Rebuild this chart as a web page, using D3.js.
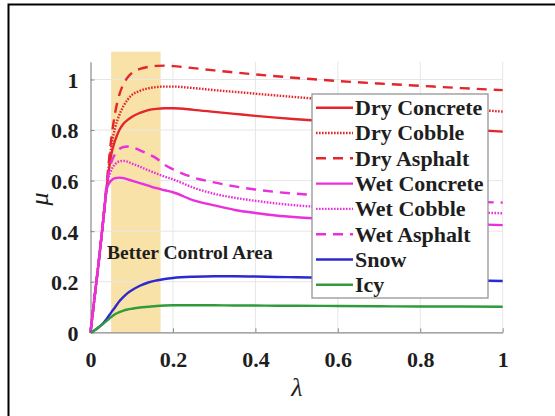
<!DOCTYPE html>
<html>
<head>
<meta charset="utf-8">
<title>mu-lambda curves</title>
<script src="https://cdn.jsdelivr.net/npm/d3@7"></script>
<style>
  body { margin: 0; background: #fff; }
  svg text { fill: #1e1e1e; }
  .grid line { stroke: #e6e6e6; stroke-width: 1; }
  .axis-line { stroke: #8a8a8a; stroke-width: 1.2; fill: none; }
  .curve { fill: none; stroke-width: 2.4; }
</style>
</head>
<body>
<div id="chart"></div>
<script>
var serif = "Liberation Serif";

// slip ratio samples (x)
var lambda = [0, 0.01, 0.02, 0.03, 0.04, 0.05, 0.06, 0.07, 0.08, 0.09, 0.1,
              0.12, 0.14, 0.16, 0.18, 0.2, 0.25, 0.3, 0.35, 0.4, 0.45, 0.5,
              0.6, 0.7, 0.8, 0.9, 1.0];

// friction coefficient, one array per road surface
var dryConcrete = [0, 0.14, 0.28, 0.43, 0.58, 0.70, 0.76, 0.80, 0.825, 0.84, 0.852,
                   0.868, 0.879, 0.884, 0.886, 0.886, 0.880, 0.872, 0.864, 0.856, 0.849, 0.843,
                   0.832, 0.822, 0.812, 0.803, 0.794];
var dryCobble   = [0, 0.14, 0.28, 0.43, 0.59, 0.73, 0.81, 0.86, 0.895, 0.92, 0.938,
                   0.955, 0.965, 0.970, 0.972, 0.972, 0.966, 0.958, 0.951, 0.944, 0.937, 0.930,
                   0.918, 0.907, 0.895, 0.884, 0.873];
var dryAsphalt  = [0, 0.14, 0.28, 0.43, 0.60, 0.76, 0.87, 0.94, 0.982, 1.008, 1.025,
                   1.042, 1.050, 1.054, 1.055, 1.053, 1.045, 1.036, 1.028, 1.020, 1.013, 1.006,
                   0.994, 0.984, 0.975, 0.966, 0.958];
var wetConcrete = [0, 0.14, 0.28, 0.43, 0.57, 0.60, 0.61, 0.612, 0.61, 0.605, 0.60,
                   0.59, 0.58, 0.57, 0.562, 0.554, 0.522, 0.502, 0.484, 0.472, 0.462, 0.455,
                   0.446, 0.440, 0.434, 0.429, 0.424];
var wetCobble   = [0, 0.14, 0.28, 0.43, 0.58, 0.64, 0.665, 0.676, 0.678, 0.675, 0.668,
                   0.655, 0.641, 0.628, 0.616, 0.605, 0.572, 0.548, 0.532, 0.520, 0.510, 0.502,
                   0.492, 0.485, 0.479, 0.475, 0.471];
var wetAsphalt  = [0, 0.14, 0.28, 0.43, 0.59, 0.67, 0.705, 0.725, 0.733, 0.735, 0.732,
                   0.720, 0.705, 0.688, 0.662, 0.645, 0.612, 0.593, 0.577, 0.565, 0.555, 0.548,
                   0.538, 0.530, 0.523, 0.518, 0.513];
var snow        = [0, 0.008, 0.02, 0.035, 0.055, 0.078, 0.10, 0.123, 0.14, 0.155, 0.166,
                   0.184, 0.197, 0.205, 0.211, 0.215, 0.220, 0.222, 0.222, 0.221, 0.219, 0.218,
                   0.215, 0.212, 0.209, 0.206, 0.203];
var icy         = [0, 0.008, 0.02, 0.033, 0.046, 0.06, 0.072, 0.08, 0.086, 0.09, 0.093,
                   0.098, 0.101, 0.104, 0.106, 0.107, 0.107, 0.107, 0.106, 0.106, 0.105, 0.105,
                   0.104, 0.103, 0.102, 0.102, 0.101];

var seriesNames = ["Dry Concrete", "Dry Cobble", "Dry Asphalt",
                   "Wet Concrete", "Wet Cobble", "Wet Asphalt", "Snow", "Icy"];
var seriesValues = [dryConcrete, dryCobble, dryAsphalt,
                    wetConcrete, wetCobble, wetAsphalt, snow, icy];

var xTicks = [0, 0.2, 0.4, 0.6, 0.8, 1];
var yTicks = [0, 0.2, 0.4, 0.6, 0.8, 1];
var controlBand = [0.05, 0.17];

var width = 555, height = 416;
var red = "#e2262c", magenta = "#e930dc", blue = "#2a2ad0", green = "#2f9b3a";
var styles = [
  {color: red, dash: null},
  {color: red, dash: "1.6,1.4"},
  {color: red, dash: "10,7"},
  {color: magenta, dash: null},
  {color: magenta, dash: "1.6,1.4"},
  {color: magenta, dash: "10,7"},
  {color: blue, dash: null},
  {color: green, dash: null}
];

var svg = d3.select("#chart").append("svg")
            .attr("width", width)
            .attr("height", height)
            .attr("font-family", serif);

// outer frame (only left and top edges fall inside the picture)
svg.append("rect")
   .attr("x", 8.5).attr("y", 4.5)
   .attr("width", 560).attr("height", 430)
   .attr("fill", "none")
   .attr("stroke", "#000")
   .attr("stroke-width", 2);

var x = d3.scaleLinear().domain([0, 1]).range([90.5, 502.7]);
var y = d3.scaleLinear().domain([0, 1.07]).range([332.3, 332.3 - 1.07 * 252.8]);

// better control band
svg.append("rect")
   .attr("x", x(controlBand[0]))
   .attr("y", y(1.11))
   .attr("width", x(controlBand[1]) - x(controlBand[0]))
   .attr("height", y(0) - y(1.11))
   .attr("fill", "#f9e2a8");

// grid
var grid = svg.append("g").attr("class", "grid");
grid.selectAll(".gx").data(xTicks.slice(1)).enter().append("line")
    .attr("x1", function(d) { return x(d); }).attr("x2", function(d) { return x(d); })
    .attr("y1", y(0)).attr("y2", y(1.07));
grid.selectAll(".gy").data(yTicks.slice(1)).enter().append("line")
    .attr("y1", function(d) { return y(d); }).attr("y2", function(d) { return y(d); })
    .attr("x1", x(0)).attr("x2", x(1));

// axes, MATLAB style: inward ticks, bold serif labels
var xAxis = svg.append("g").attr("transform", "translate(0," + y(0) + ")")
               .call(d3.axisBottom(x).tickValues(xTicks).tickSizeInner(-4).tickSizeOuter(0)
                       .tickPadding(14).tickFormat(d3.format("~g")));
var yAxis = svg.append("g").attr("transform", "translate(" + x(0) + ",0)")
               .call(d3.axisLeft(y).tickValues(yTicks).tickSizeInner(-4).tickSizeOuter(0)
                       .tickPadding(12).tickFormat(d3.format("~g")));
[xAxis, yAxis].forEach(function(a) {
  a.attr("font-family", serif).attr("font-size", 22).attr("font-weight", "bold");
  a.select(".domain").attr("class", "axis-line");
  a.selectAll(".tick line").attr("stroke", "#8a8a8a");
  a.selectAll(".tick text").attr("fill", "#1e1e1e");
});
xAxis.selectAll(".tick text").attr("dy", "0.95em");
yAxis.selectAll(".tick text").attr("dy", "0.36em");

// curves
var line = d3.line()
             .x(function(d) { return x(d[0]); })
             .y(function(d) { return y(d[1]); })
             .curve(d3.curveMonotoneX);

var curves = svg.append("g");
seriesValues.forEach(function(vals, i) {
  curves.append("path")
        .datum(lambda.map(function(l, j) { return [l, vals[j]]; }))
        .attr("class", "curve")
        .attr("stroke", styles[i].color)
        .attr("stroke-dasharray", styles[i].dash)
        .attr("d", line);
});

svg.append("text")
   .attr("x", 107).attr("y", 259)
   .attr("font-size", 19.5).attr("font-weight", "bold")
   .text("Better Control Area");

// axis titles
svg.append("text")
   .attr("x", 297).attr("y", 396)
   .attr("text-anchor", "middle")
   .attr("font-size", 26).attr("font-style", "italic")
   .text("λ");
svg.append("text")
   .attr("transform", "translate(48,199) rotate(-90)")
   .attr("text-anchor", "middle")
   .attr("font-size", 26).attr("font-style", "italic")
   .text("μ");

// legend
var legend = svg.append("g");
legend.append("rect")
      .attr("x", 312).attr("y", 94)
      .attr("width", 176).attr("height", 204)
      .attr("fill", "#fff")
      .attr("stroke", "#8c8c8c")
      .attr("stroke-width", 1.2);
seriesNames.forEach(function(name, i) {
  var cy = 107.7 + i * 25.3;
  legend.append("line")
        .attr("x1", 316).attr("x2", 353)
        .attr("y1", cy).attr("y2", cy)
        .attr("stroke", styles[i].color)
        .attr("stroke-width", 2.4)
        .attr("stroke-dasharray", styles[i].dash);
  legend.append("text")
        .attr("x", 355).attr("y", cy)
        .attr("dy", "0.34em")
        .attr("font-size", 22).attr("font-weight", "bold")
        .text(name);
});
</script>
</body>
</html>
